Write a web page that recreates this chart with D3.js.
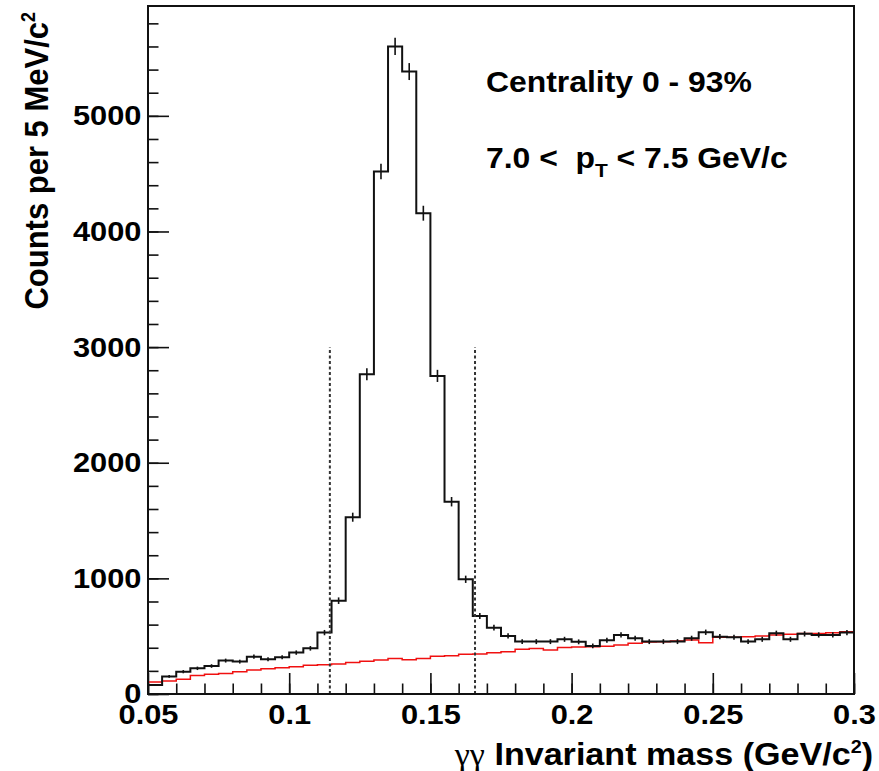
<!DOCTYPE html>
<html>
<head>
<meta charset="utf-8">
<script src="https://cdn.jsdelivr.net/npm/d3@7"></script>
<style>
body { margin: 0; background: #fff; }
svg text { font-family: "Liberation Sans", Arial, sans-serif; font-weight: bold; fill: #000; }
</style>
</head>
<body>
<svg id="plotarea" width="879" height="771"></svg>
<script>
// lower edge of each 5 MeV bin (GeV/c^2)
var binEdges = [0.050, 0.055, 0.060, 0.065, 0.070, 0.075, 0.080, 0.085, 0.090, 0.095,
    0.100, 0.105, 0.110, 0.115, 0.120, 0.125, 0.130, 0.135, 0.140, 0.145,
    0.150, 0.155, 0.160, 0.165, 0.170, 0.175, 0.180, 0.185, 0.190, 0.195,
    0.200, 0.205, 0.210, 0.215, 0.220, 0.225, 0.230, 0.235, 0.240, 0.245,
    0.250, 0.255, 0.260, 0.265, 0.270, 0.275, 0.280, 0.285, 0.290, 0.295];
var binWidth = 0.005;

// counts per bin
var counts = [78, 152, 193, 222, 242, 289, 280, 323, 300, 318,
    358, 395, 531, 807, 1529, 2765, 4518, 5600, 5383, 4158,
    2751, 1663, 992, 675, 574, 502, 453, 453, 453, 473,
    451, 416, 464, 511, 482, 453, 453, 453, 482, 534,
    496, 491, 453, 473, 525, 473, 520, 511, 511, 531];

// red background estimate per bin
var background = [104, 112, 128, 160, 170, 178, 192, 207, 218, 228,
    236, 248, 253, 260, 273, 283, 293, 306, 296, 308,
    326, 330, 343, 345, 356, 366, 386, 394, 380, 403,
    406, 408, 413, 423, 438, 449, 452, 458, 466, 443,
    490, 490, 495, 501, 510, 516, 524, 524, 530, 538];

// integration window (dashed lines)
var windowEdges = [0.1144, 0.1658];
var windowTop = 3000;

var xTicks = [0.05, 0.1, 0.15, 0.2, 0.25, 0.3];
var xTickLabels = ["0.05", "0.1", "0.15", "0.2", "0.25", "0.3"];
var yTicks = [0, 1000, 2000, 3000, 4000, 5000];
var yTickLabels = ["0", "1000", "2000", "3000", "4000", "5000"];

d3.select(window).on('load', init);

function init() {
    var svg = d3.select("#plotarea");
    var left = 148, right = 854, top = 6, bottom = 694;
    var stretch = 1.1;  // the text in the picture is a bit wide

    var xScale = d3.scaleLinear().domain([0.05, 0.3]).range([left, right]);
    var yScale = d3.scaleLinear().domain([0, 5950]).range([bottom, top]);

    // minor ticks first, then the labelled ones
    svg.append('g')
        .attr('transform', 'translate(0,' + bottom + ')')
        .call(d3.axisBottom(xScale).tickValues(xScale.ticks(25)).tickSize(-10.5).tickSizeOuter(0).tickFormat(''));
    var xAxis = svg.append('g')
        .attr('transform', 'translate(0,' + bottom + ')')
        .call(d3.axisBottom(xScale).tickValues(xTicks).tickSize(-21).tickSizeOuter(0).tickPadding(10)
            .tickFormat(function(d, i) { return xTickLabels[i]; }));

    svg.append('g')
        .attr('transform', 'translate(' + left + ',0)')
        .call(d3.axisLeft(yScale).tickValues(yScale.ticks(30)).tickSize(-10.5).tickSizeOuter(0).tickFormat(''));
    var yAxis = svg.append('g')
        .attr('transform', 'translate(' + left + ',0)')
        .call(d3.axisLeft(yScale).tickValues(yTicks).tickSize(-21).tickSizeOuter(0).tickPadding(6)
            .tickFormat(function(d, i) { return yTickLabels[i]; }));

    svg.selectAll('.domain').remove();
    svg.selectAll('.tick line').attr('stroke', '#111').attr('stroke-width', 1.6);
    [xAxis, yAxis].forEach(function(ax) {
        ax.selectAll('text')
            .attr('fill', '#000')
            .style('font-size', '28px')
            .style('font-family', '"Liberation Sans", Arial, sans-serif')
            .style('font-weight', 'bold')
            .attr('transform', 'scale(' + stretch + ',1)');
    });

    // background histogram (red)
    var stepLine = d3.line()
        .x(function(d) { return xScale(d[0]); })
        .y(function(d) { return yScale(d[1]); })
        .curve(d3.curveStepAfter);

    var bgPts = binEdges.map(function(e, i) { return [e, background[i]]; });
    bgPts.push([binEdges[binEdges.length - 1] + binWidth, background[background.length - 1]]);
    svg.append('path')
        .attr('d', stepLine(bgPts))
        .attr('fill', 'none')
        .attr('stroke', '#f01010')
        .attr('stroke-width', 1.5);

    // data histogram
    var pts = binEdges.map(function(e, i) { return [e, counts[i]]; });
    pts.push([binEdges[binEdges.length - 1] + binWidth, counts[counts.length - 1]]);
    svg.append('path')
        .attr('d', stepLine(pts))
        .attr('fill', 'none')
        .attr('stroke', '#111')
        .attr('stroke-width', 2);

    // statistical error bars at bin centres
    svg.append('g')
        .selectAll('line')
        .data(binEdges)
        .enter()
        .append('line')
        .attr('x1', function(d) { return xScale(d + binWidth / 2); })
        .attr('x2', function(d) { return xScale(d + binWidth / 2); })
        .attr('y1', function(d, i) { return yScale(counts[i] - Math.sqrt(counts[i])); })
        .attr('y2', function(d, i) { return yScale(counts[i] + Math.sqrt(counts[i])); })
        .attr('stroke', '#111')
        .attr('stroke-width', 1.6);

    // window lines
    svg.append('g')
        .selectAll('line')
        .data(windowEdges)
        .enter()
        .append('line')
        .attr('x1', function(d) { return xScale(d); })
        .attr('x2', function(d) { return xScale(d); })
        .attr('y1', yScale(0))
        .attr('y2', yScale(windowTop))
        .attr('stroke', '#333')
        .attr('stroke-width', 2)
        .attr('stroke-dasharray', '3,2.5');

    // frame
    svg.append('rect')
        .attr('x', left).attr('y', top)
        .attr('width', right - left).attr('height', bottom - top)
        .attr('fill', 'none')
        .attr('stroke', '#111')
        .attr('stroke-width', 2);

    // labels inside the pad
    svg.append('text')
        .attr('transform', 'translate(486,92) scale(' + stretch + ',1)')
        .style('font-size', '29px')
        .text('Centrality 0 - 93%');

    var pt = svg.append('text')
        .attr('transform', 'translate(486,168) scale(' + stretch + ',1)')
        .style('font-size', '29px')
        .style('white-space', 'pre');
    pt.append('tspan').text('7.0 <  p');
    pt.append('tspan').attr('dy', 9).style('font-size', '19px').text('T');
    pt.append('tspan').attr('dy', -9).text(' < 7.5 GeV/c');

    // axis titles
    var xt = svg.append('text')
        .attr('transform', 'translate(873,765) scale(' + stretch + ',1)')
        .attr('text-anchor', 'end')
        .style('font-size', '31px');
    xt.append('tspan')
        .style('font-family', '"Liberation Serif", "DejaVu Serif", serif')
        .style('font-weight', 'normal')
        .text('\u03b3\u03b3');
    xt.append('tspan').text(' Invariant mass (GeV/c');
    xt.append('tspan').attr('dy', -12).style('font-size', '18px').text('2');
    xt.append('tspan').attr('dy', 12).text(')');

    var yt = svg.append('text')
        .attr('transform', 'translate(48,12) rotate(-90) scale(1,' + stretch + ')')
        .attr('text-anchor', 'end')
        .style('font-size', '31px');
    yt.append('tspan').text('Counts per 5 MeV/c');
    yt.append('tspan').attr('dy', -12).style('font-size', '18px').text('2');
}
</script>
</body>
</html>
